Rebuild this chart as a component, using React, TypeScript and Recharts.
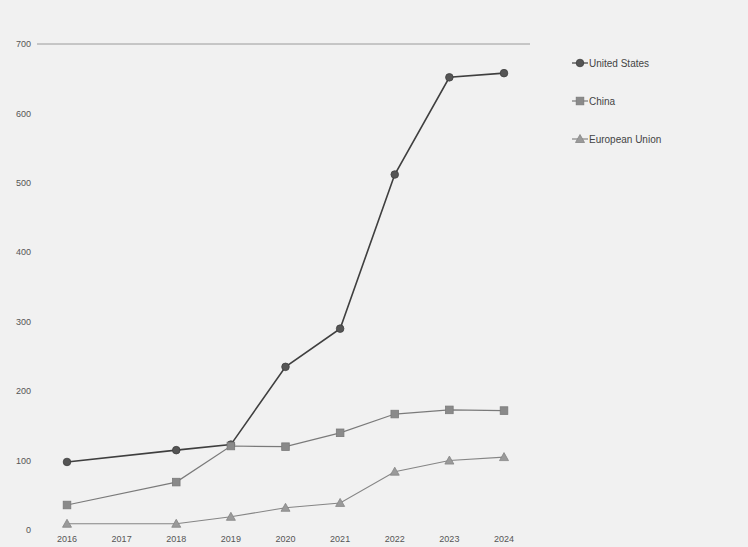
import { LineChart, Line, XAxis, YAxis, ReferenceLine } from 'recharts';

const years = ['2016', '2017', '2018', '2019', '2020', '2021', '2022', '2023', '2024'];
const unitedStates = [98, null, 115, 123, 235, 290, 512, 652, 658];
const china = [36, null, 69, 121, 120, 140, 167, 173, 172];
const europeanUnion = [9, null, 9, 19, 32, 39, 84, 100, 105];
const yTicks = [0, 100, 200, 300, 400, 500, 600, 700];

const data = years.map((year, i) => ({
  year,
  us: unitedStates[i],
  cn: china[i],
  eu: europeanUnion[i],
}));

const series = [
  { key: 'us', name: 'United States', color: '#3f3f3f', fill: '#555', shape: 'circle', width: 1.6 },
  { key: 'cn', name: 'China', color: '#7a7a7a', fill: '#8a8a8a', shape: 'square', width: 1.2 },
  { key: 'eu', name: 'European Union', color: '#858585', fill: '#9a9a9a', shape: 'triangle', width: 1.1 },
];

function Marker({ cx, cy, shape, fill, stroke }: any) {
  if (cx == null || cy == null) return null;
  if (shape === 'circle') {
    return <circle cx={cx} cy={cy} r={3.8} fill={fill} stroke={stroke} strokeWidth={0.8} />;
  }
  if (shape === 'square') {
    return <rect x={cx - 3.8} y={cy - 3.8} width={7.6} height={7.6} fill={fill} stroke={stroke} strokeWidth={0.8} />;
  }
  return (
    <polygon
      points={`${cx},${cy - 4.5} ${cx + 4.5},${cy + 3.5} ${cx - 4.5},${cy + 3.5}`}
      fill={fill}
      stroke={stroke}
      strokeWidth={0.8}
    />
  );
}

export default function App() {
  return (
    <div
      style={{
        position: 'absolute',
        left: 0,
        top: 0,
        width: 748,
        height: 547,
        background: '#f1f1f1',
        fontFamily: '"Liberation Sans", Arial, sans-serif',
      }}
    >
      <style>{'body { margin: 0; overflow: hidden; }'}</style>
      <LineChart
        width={748}
        height={547}
        data={data}
        margin={{ top: 44, right: 218, left: 0, bottom: 0 }}
      >
        <ReferenceLine y={700} stroke="#9a9a9a" strokeWidth={1} ifOverflow="extendDomain" />
        <XAxis
          dataKey="year"
          axisLine={false}
          tickLine={false}
          height={17}
          interval={0}
          tickMargin={0}
          padding={{ left: 30, right: 26 }}
          tick={{ fill: '#555', fontSize: 9 }}
        />
        <YAxis
          width={37}
          domain={[0, 700]}
          ticks={yTicks}
          axisLine={false}
          tickLine={false}
          tickMargin={0}
          tick={{ fill: '#555', fontSize: 9 }}
        />
        {series.map((s) => (
          <Line
            key={s.key}
            type="linear"
            dataKey={s.key}
            name={s.name}
            stroke={s.color}
            strokeWidth={s.width}
            connectNulls
            isAnimationActive={false}
            dot={(props: any) => (
              <Marker key={`${s.key}-${props.index}`} {...props} shape={s.shape} fill={s.fill} stroke={s.color} />
            )}
            activeDot={false}
          />
        ))}
      </LineChart>
      <div style={{ position: 'absolute', left: 572, top: 56 }}>
        {series.map((s) => (
          <div
            key={s.key}
            style={{ display: 'flex', alignItems: 'center', height: 14, marginBottom: 24, fontSize: 10, color: '#444' }}
          >
            <svg width={16} height={12} style={{ marginRight: 1 }}>
              <line x1={0} y1={6} x2={16} y2={6} stroke={s.color} strokeWidth={1.2} />
              <Marker cx={8} cy={6} shape={s.shape} fill={s.fill} stroke={s.color} />
            </svg>
            <span>{s.name}</span>
          </div>
        ))}
      </div>
    </div>
  );
}
